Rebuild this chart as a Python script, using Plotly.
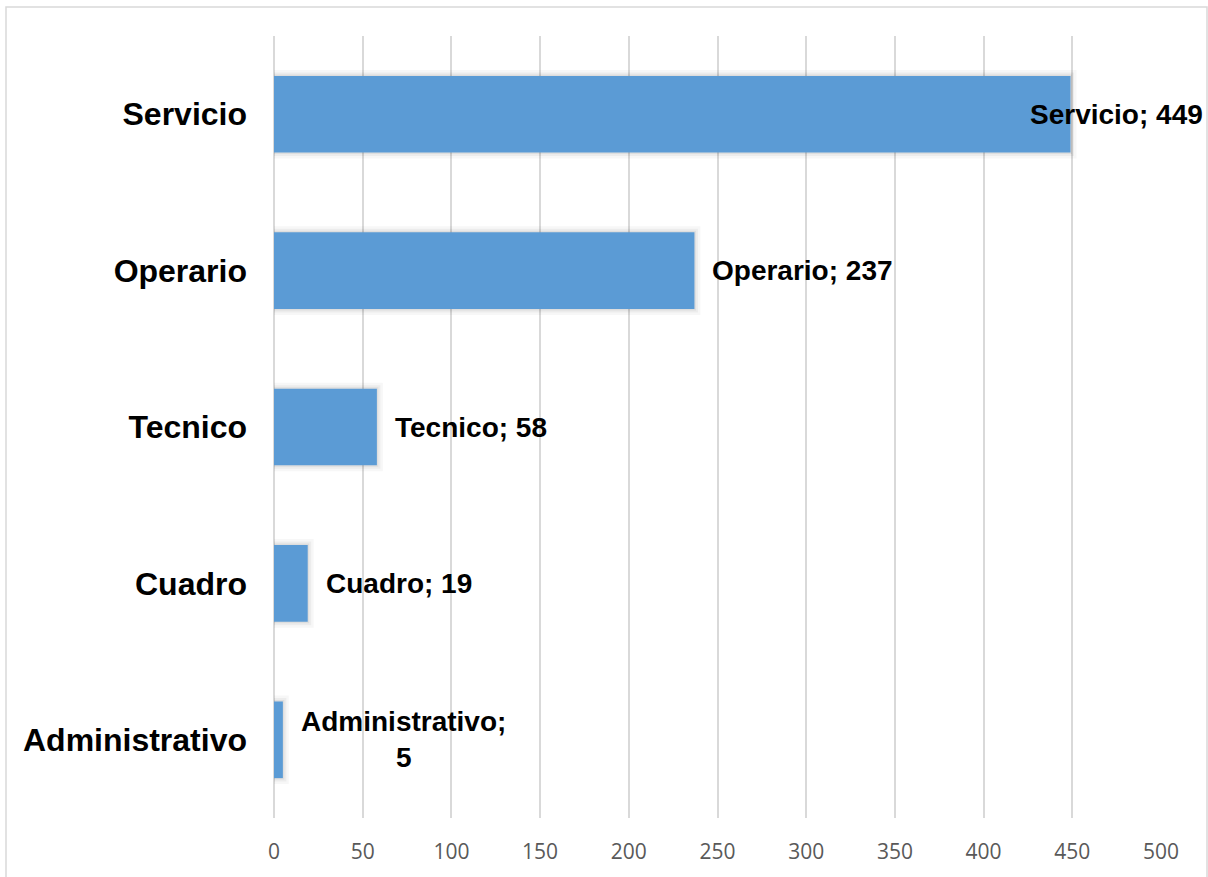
import plotly.graph_objects as go

# Headcount by job category
categories = ["Administrativo", "Cuadro", "Tecnico", "Operario", "Servicio"]
values = [5, 19, 58, 237, 449]
x_ticks = [0, 50, 100, 150, 200, 250, 300, 350, 400, 450, 500]

BAR_COLOR = "#5b9bd5"
GRID_COLOR = "#d9d9d9"

fig = go.Figure()

# soft shadow around each bar (stacked translucent outlines)
for w, a in [(12, 0.03), (7, 0.045), (3, 0.06)]:
    fig.add_trace(go.Bar(
        y=categories, x=values, orientation="h",
        marker=dict(color="rgba(0,0,0,0)", line=dict(color=f"rgba(0,0,0,{a})", width=w)),
        hoverinfo="skip", showlegend=False,
    ))

fig.add_trace(go.Bar(
    y=categories, x=values, orientation="h",
    marker=dict(color=BAR_COLOR, line=dict(width=0)),
    showlegend=False,
))

# data labels "Category; value" to the right of each bar
for cat, val in zip(categories, values):
    if cat == "Administrativo":
        text = f"{cat};<br>{val}"
    else:
        text = f"{cat}; {val}"
    shift = 16 if val < 400 else -43
    fig.add_annotation(
        x=val, y=cat, xref="x", yref="y", text=text,
        showarrow=False, xanchor="left", yanchor="middle", xshift=shift,
        align="center",
        font=dict(family="Liberation Sans, Arial", size=28, color="#000000", weight="bold"),
    )

# outer chart border
fig.add_shape(
    type="rect", xref="paper", yref="paper",
    x0=(6 - 274) / 887, x1=(1207 - 274) / 887,
    y0=-0.2, y1=(818 - 7) / 782,
    line=dict(color=GRID_COLOR, width=1.5), fillcolor="rgba(0,0,0,0)", layer="below",
)

fig.update_layout(
    width=1208, height=877,
    margin=dict(l=274, r=47, t=36, b=59),
    paper_bgcolor="white", plot_bgcolor="white",
    barmode="overlay", bargap=0.51,
    xaxis=dict(
        range=[0, 500], tickvals=x_ticks, ticktext=[str(v) for v in x_ticks],
        showgrid=True, gridcolor=GRID_COLOR, gridwidth=1.5,
        zeroline=True, zerolinecolor=GRID_COLOR, zerolinewidth=1.5,
        showline=False, ticks="",
        tickfont=dict(family="Open Sans", size=21, color="#595959"),
        ticklabelstandoff=19,
    ),
    yaxis=dict(
        categoryorder="array", categoryarray=categories,
        showgrid=False, zeroline=False, showline=False, ticks="",
        tickfont=dict(family="Liberation Sans, Arial", size=32, color="#000000", weight="bold"),
        ticklabelstandoff=26,
    ),
)

fig.write_html("out.html")
